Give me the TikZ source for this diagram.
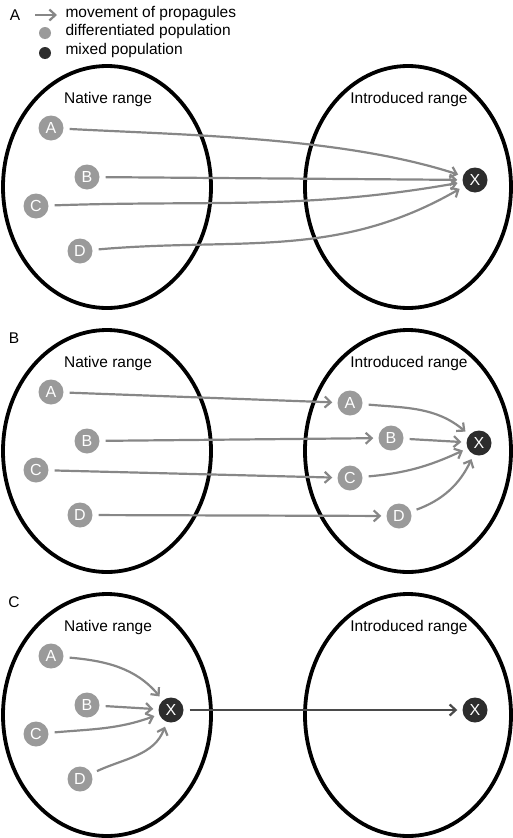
\documentclass[tikz,border=0pt]{standalone}
\usepackage{fontspec}
\setmainfont{Liberation Sans}
\usetikzlibrary{arrows.meta}

\definecolor{popgray}{HTML}{9A9A9A}
\definecolor{mixgray}{HTML}{2D2D2D}
\definecolor{arrgray}{HTML}{878787}
\definecolor{darkarr}{HTML}{4A4A4A}

\begin{document}
\begin{tikzpicture}
 [x=1pt,y=-1pt,font=\fontsize{15.5}{18}\selectfont,
  pop/.style={circle,fill=popgray,text=white,minimum size=25pt,inner sep=0pt,
   font=\fontsize{16}{18}\selectfont},
  mix/.style={pop,fill=mixgray},
  rangeline/.style={draw,line width=3.8pt},
  move/.style={draw=arrgray,line width=2.2pt,-{Straight Barb[length=6pt,width=11pt]},
   shorten <=6pt,shorten >=5pt}]
 \useasboundingbox (0,0) rectangle (512,838);

 % legend
 \node (labA) at (15,15) {A};
 \coordinate (k1) at (35,15);
 \coordinate (k2) at (57,15);
 \draw[move,shorten <=0pt,shorten >=0pt] (k1) -- (k2);
 \node[pop,minimum size=12pt] (kpop) at (45,33) {};
 \node[mix,minimum size=12pt] (kmix) at (45,53) {};
 \node[anchor=mid west] (kt1) at (62,15) {movement of propagules};
 \node[anchor=mid west] (kt2) at (62,33) {differentiated population};
 \node[anchor=mid west] (kt3) at (62,52) {mixed population};
 \node (labB) at (14,338) {B};
 \node (labC) at (14,602) {C};

 % the two ranges, three times
 \foreach \p/\s in {a/0,b/264,c/528}{
  \begin{scope}[yshift=-\s pt]
   \draw[rangeline] (107,187) ellipse (104 and 121);
   \draw[rangeline] (408,187) ellipse (103 and 121);
   \node (\p nat) at (108,99) {Native range};
   \node (\p int) at (409,99) {Introduced range};
   \foreach \name/\x/\y in {A/51/128,B/87/177,C/36/206,D/80/251}
    \node[pop] (\p\name) at (\x,\y) {\name};
  \end{scope}
 }

 % A: mixing on arrival
 \node[mix] (aX) at (475,180) {X};
 \draw[move] (aA) to[out=-3,in=162,looseness=0.8] (aX);
 \draw[move] (aB) -- (aX);
 \draw[move] (aC) to[out=2,in=190] (aX);
 \draw[move] (aD) to[out=5,in=210] (aX);

 % B: mixing after establishment
 \begin{scope}[yshift=-264pt]
  \foreach \name/\x/\y in {A/350/139,B/391/174,C/350/214,D/399/252}
   \node[pop] (bi\name) at (\x,\y) {\name};
  \node[mix] (bX) at (479,179) {X};
 \end{scope}
 \foreach \name in {A,B,C,D}
  \draw[move] (b\name) -- (bi\name);
 \draw[move] (biA) to[out=-5,in=140] (bX);
 \draw[move] (biB) -- (bX);
 \draw[move] (biC) to[out=5,in=205] (bX);
 \draw[move] (biD) to[out=20,in=245] (bX);

 % C: mixing in the native range
 \begin{scope}[yshift=-528pt]
  \node[mix] (cX) at (171,182) {X};
  \node[mix] (cXi) at (475,182) {X};
 \end{scope}
 \draw[move] (cA) to[out=-5,in=130] (cX);
 \draw[move] (cB) -- (cX);
 \draw[move] (cC) to[out=5,in=200] (cX);
 \draw[move] (cD) to[out=25,in=250] (cX);
 \draw[move,draw=darkarr] (cX) -- (cXi);
\end{tikzpicture}
\end{document}
